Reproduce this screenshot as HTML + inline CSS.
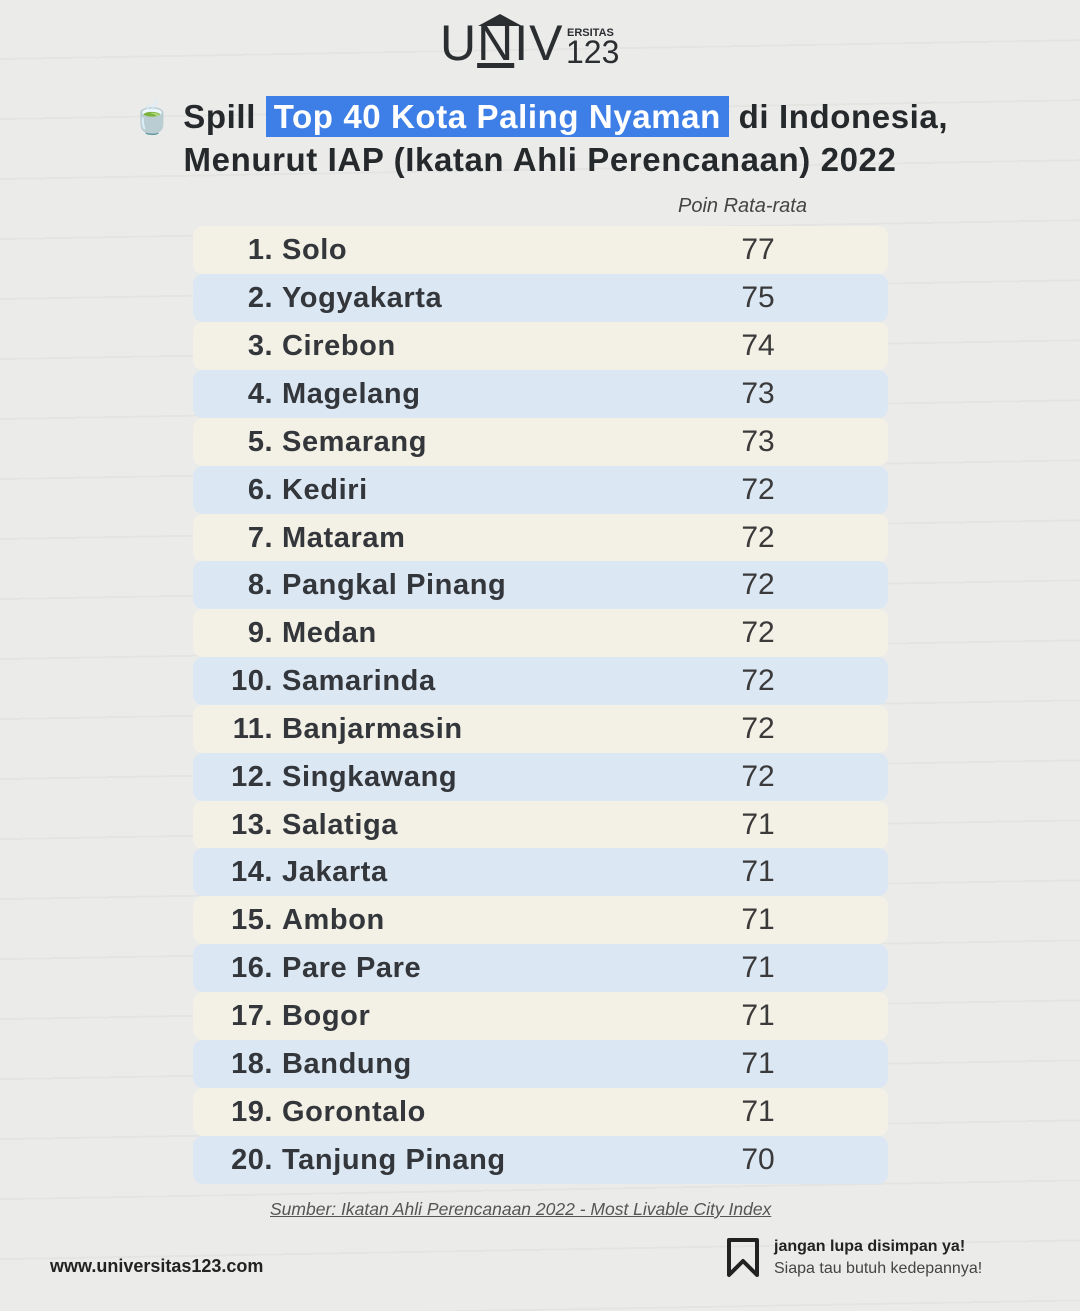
<!DOCTYPE html>
<html><head><meta charset="utf-8"><style>
body{margin:0;width:1080px;height:1311px;background:#ebebea;font-family:"Liberation Sans",sans-serif;color:#2a2d30;position:relative;overflow:hidden}
.abs{position:absolute}
.logo{left:440px;top:14px;font-size:50px;letter-spacing:1px;color:#2b2e31}
.t{left:0;width:1080px;text-align:center;font-weight:bold;font-size:33px;color:#26292c;white-space:nowrap;letter-spacing:0.6px}
.hl{background:#3d7fe6;color:#fff;padding:2px 8px}
.row{left:193px;width:695px;height:48px;border-radius:10px}
.c{background:#f3f0e5}.b{background:#dbe7f3}
.n{position:absolute;width:80px;text-align:right;left:0;font-size:29px;line-height:48px;font-weight:bold;color:#33363a;letter-spacing:0.5px}
.nm{position:absolute;left:89px;font-size:29px;line-height:48px;font-weight:bold;color:#33363a;letter-spacing:0.6px}
.v{position:absolute;left:530px;width:70px;text-align:center;font-size:30px;line-height:48px;color:#3a3a3a;font-weight:300}
</style></head><body>
<div class="abs" style="left:0;top:0;width:1080px;height:1311px;background:repeating-linear-gradient(179deg,transparent 0 58px,rgba(0,0,0,0.03) 58px 60px)"></div>
<div class="abs logo">U<span style="text-decoration:underline">N</span>IV</div>
<div class="abs" style="left:478px;top:14px;width:0;height:0;border-left:22px solid transparent;border-right:22px solid transparent;border-bottom:12px solid #2b2e31"></div>
<div class="abs" style="left:567px;top:27px;font-size:11px;font-weight:bold;color:#2b2e31">ERSITAS</div>
<div class="abs" style="left:566px;top:34px;font-size:32px;color:#2b2e31">123</div>
<div class="abs t" style="top:98px">🍵 Spill <span class="hl">Top 40 Kota Paling Nyaman</span> di Indonesia,</div>
<div class="abs t" style="top:141px">Menurut IAP (Ikatan Ahli Perencanaan) 2022</div>
<div class="abs" style="left:678px;top:195px;font-size:20px;font-style:italic;color:#444">Poin Rata-rata</div>
<div class="abs" style="left:270px;top:1199px;font-size:17.5px;font-style:italic;text-decoration:underline;color:#555">Sumber: Ikatan Ahli Perencanaan 2022 - Most Livable City Index</div>
<div class="abs" style="left:50px;top:1256px;font-size:18px;font-weight:bold;color:#222">www.universitas123.com</div>
<svg class="abs" style="left:726px;top:1237px" width="34" height="42"><path d="M3 3 H31 V38 L17 24 L3 38 Z" fill="none" stroke="#222" stroke-width="4" stroke-linejoin="round"/></svg>
<div class="abs" style="left:774px;top:1238px;font-size:16px;font-weight:bold;color:#222">jangan lupa disimpan ya!</div>
<div class="abs" style="left:774px;top:1260px;font-size:16px;color:#444">Siapa tau butuh kedepannya!</div>
<div class="abs row c" style="top:226px"><span class="n">1.</span><span class="nm">Solo</span><span class="v">77</span></div>
<div class="abs row b" style="top:274px"><span class="n">2.</span><span class="nm">Yogyakarta</span><span class="v">75</span></div>
<div class="abs row c" style="top:322px"><span class="n">3.</span><span class="nm">Cirebon</span><span class="v">74</span></div>
<div class="abs row b" style="top:370px"><span class="n">4.</span><span class="nm">Magelang</span><span class="v">73</span></div>
<div class="abs row c" style="top:418px"><span class="n">5.</span><span class="nm">Semarang</span><span class="v">73</span></div>
<div class="abs row b" style="top:466px"><span class="n">6.</span><span class="nm">Kediri</span><span class="v">72</span></div>
<div class="abs row c" style="top:514px"><span class="n">7.</span><span class="nm">Mataram</span><span class="v">72</span></div>
<div class="abs row b" style="top:561px"><span class="n">8.</span><span class="nm">Pangkal Pinang</span><span class="v">72</span></div>
<div class="abs row c" style="top:609px"><span class="n">9.</span><span class="nm">Medan</span><span class="v">72</span></div>
<div class="abs row b" style="top:657px"><span class="n">10.</span><span class="nm">Samarinda</span><span class="v">72</span></div>
<div class="abs row c" style="top:705px"><span class="n">11.</span><span class="nm">Banjarmasin</span><span class="v">72</span></div>
<div class="abs row b" style="top:753px"><span class="n">12.</span><span class="nm">Singkawang</span><span class="v">72</span></div>
<div class="abs row c" style="top:801px"><span class="n">13.</span><span class="nm">Salatiga</span><span class="v">71</span></div>
<div class="abs row b" style="top:848px"><span class="n">14.</span><span class="nm">Jakarta</span><span class="v">71</span></div>
<div class="abs row c" style="top:896px"><span class="n">15.</span><span class="nm">Ambon</span><span class="v">71</span></div>
<div class="abs row b" style="top:944px"><span class="n">16.</span><span class="nm">Pare Pare</span><span class="v">71</span></div>
<div class="abs row c" style="top:992px"><span class="n">17.</span><span class="nm">Bogor</span><span class="v">71</span></div>
<div class="abs row b" style="top:1040px"><span class="n">18.</span><span class="nm">Bandung</span><span class="v">71</span></div>
<div class="abs row c" style="top:1088px"><span class="n">19.</span><span class="nm">Gorontalo</span><span class="v">71</span></div>
<div class="abs row b" style="top:1136px"><span class="n">20.</span><span class="nm">Tanjung Pinang</span><span class="v">70</span></div>
</body></html>
